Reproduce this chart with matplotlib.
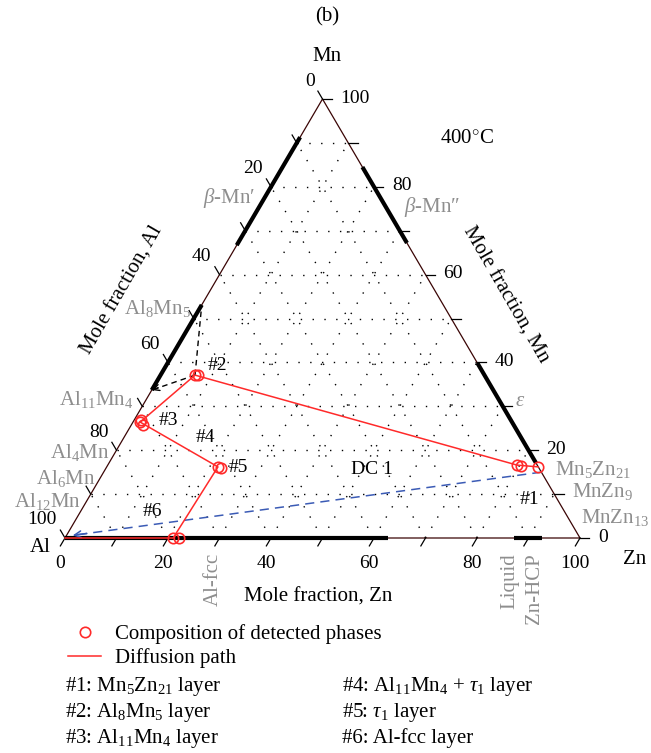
import numpy as np
import matplotlib
matplotlib.use('Agg')
import matplotlib.pyplot as plt
from matplotlib.lines import Line2D

plt.rcParams['font.family'] = ['Liberation Serif', 'DejaVu Serif']
plt.rcParams['mathtext.fontset'] = 'custom'
plt.rcParams['mathtext.rm'] = 'Liberation Serif'
plt.rcParams['mathtext.it'] = 'Liberation Serif:italic'
plt.rcParams['mathtext.bf'] = 'Liberation Serif:bold'

# detected phase compositions, (Zn, Mn) mole fractions, Al is the balance
phase_zn = [0.795, 0.803, 0.838, 0.067, 0.072, 0.013, 0.014, 0.023,
            0.216, 0.223, 0.210, 0.221]
phase_mn = [0.166, 0.164, 0.162, 0.371, 0.371, 0.269, 0.264, 0.257,
            0.162, 0.159, 0.000, 0.000]

# diffusion path, Al side -> Zn side
path_zn = [0.000, 0.210, 0.216, 0.014, 0.067, 0.795, 0.838]
path_mn = [0.000, 0.000, 0.162, 0.264, 0.371, 0.166, 0.162]

tick_vals = [0, 10, 20, 30, 40, 50, 60, 70, 80, 90, 100]
tick_labels = [0, 20, 40, 60, 80, 100]

# single-phase ranges on the binary edges
al_mn_bars = [(0.667, 0.913), (0.337, 0.531)]   # Mn fraction (Zn = 0)
mn_zn_bars = [(0.672, 0.845), (0.171, 0.399)]   # Mn fraction (Al = 0)
al_zn_bars = [(0.000, 0.627), (0.872, 0.926)]   # Zn fraction (Mn = 0)

# tie lines from the #2 composition to the Al8Mn5 field
tie_from = (0.067, 0.371)
tie_to = [(0.0, 0.531), (0.0, 0.337)]

# diffusion couple DC 1 end members
dc_start = (0.850, 0.150)
dc_end = (0.012, 0.006)

layer_text = ['#1: Mn$_5$Zn$_{21}$ layer', '#2: Al$_8$Mn$_5$ layer',
              '#3: Al$_{11}$Mn$_4$ layer', '#4: Al$_{11}$Mn$_4$ + $\\tau_1$ layer',
              '#5: $\\tau_1$ layer', '#6: Al-fcc layer']

GRAY = '#8e8e8e'
RED = '#ff2a2a'
BLUE = '#3b5bb5'
EDGE = '#3a0505'
FS = 15


def cart(zn, mn):
    zn = np.asarray(zn, float)
    mn = np.asarray(mn, float)
    return zn + mn / 2.0, mn


def at(x, y):
    """image pixel -> data coordinates"""
    return (x - 65) / 515.0, (538 - y) / 439.0


fig = plt.figure(figsize=(6.51, 7.53), dpi=100)
ax = fig.add_axes([0, 0, 1, 1])
ax.set_xlim(-65 / 515.0, 586 / 515.0)
ax.set_ylim((538 - 753) / 439.0, 538 / 439.0)
ax.axis('off')

# dotted 10 % grid
for f in np.arange(1, 10) / 10.0:
    for a, b in [((0, f), (1 - f, f)), ((f, 0), (f, 1 - f)), ((f, 0), (0, f))]:
        x, y = cart([a[0], b[0]], [a[1], b[1]])
        ax.plot(x, y, color='black', lw=1.0, ls=(0, (1, 7.5)), zorder=1)

# triangle frame
x, y = cart([0, 1, 0, 0], [0, 0, 1, 0])
ax.plot(x, y, color=EDGE, lw=0.9, zorder=2)

# phase fields along the edges
for lo, hi in al_mn_bars:
    x, y = cart([0, 0], [lo, hi])
    ax.plot(x, y, color='k', lw=3.0, solid_capstyle='butt', zorder=3)
for lo, hi in mn_zn_bars:
    x, y = cart([1 - lo, 1 - hi], [lo, hi])
    ax.plot(x, y, color='k', lw=3.0, solid_capstyle='butt', zorder=3)
for lo, hi in al_zn_bars:
    x, y = cart([lo, hi], [0, 0])
    ax.plot(x, y, color='k', lw=3.0, solid_capstyle='butt', zorder=3)

# ticks and tick labels
L = 0.018
for v in tick_vals:
    f = v / 100.0
    # Zn axis (bottom)
    px_, py_ = cart(f, 0)
    ax.plot([px_, px_ - 0.5 * L], [py_, py_ - L], color='k', lw=0.9, zorder=3)
    # Al axis (left)
    px_, py_ = cart(0, 1 - f)
    ax.plot([px_, px_ - 0.5 * L], [py_, py_ + L], color='k', lw=0.9, zorder=3)
    # Mn axis (right)
    px_, py_ = cart(1 - f, f)
    ax.plot([px_, px_ + L], [py_, py_], color='k', lw=0.9, zorder=3)
    if v in tick_labels:
        ax.annotate(str(v), cart(f, 0), xytext=(-5, -25), textcoords='offset pixels',
                    ha='center', va='center', fontsize=14)
        ax.annotate(str(v), cart(0, 1 - f), xytext=(-8, 18), textcoords='offset pixels',
                    ha='right', va='center', fontsize=14)
        ax.annotate(str(v), cart(1 - f, f), xytext=(18, 1), textcoords='offset pixels',
                    ha='left', va='center', fontsize=14)

# tie lines to Al8Mn5
x, y = cart([tie_from[0], tie_to[0][0]], [tie_from[1], tie_to[0][1]])
ax.plot(x, y, color='k', lw=1.0, ls=(0, (4, 3)), zorder=4)
x, y = cart([tie_from[0], tie_to[1][0]], [tie_from[1], tie_to[1][1]])
ax.plot(x, y, color='k', lw=1.0, ls=(0, (4, 3)), zorder=4)
tip = cart(*tie_to[1])
tail = cart(tie_to[1][0] + 0.15 * (tie_from[0] - tie_to[1][0]),
            tie_to[1][1] + 0.15 * (tie_from[1] - tie_to[1][1]))
ax.annotate('', xy=tip, xytext=tail,
            arrowprops=dict(arrowstyle='->', color='k', lw=1.0, shrinkA=0, shrinkB=0,
                            mutation_scale=11))

# diffusion couple composition line
x, y = cart([dc_start[0], dc_end[0]], [dc_start[1], dc_end[1]])
ax.plot(x, y, color=BLUE, lw=1.1, ls=(0, (6, 4)), zorder=4)
tip = cart(*dc_end)
tail = cart(dc_end[0] + 0.03 * (dc_start[0] - dc_end[0]),
            dc_end[1] + 0.03 * (dc_start[1] - dc_end[1]))
ax.annotate('', xy=tip, xytext=tail,
            arrowprops=dict(arrowstyle='->', color=BLUE, lw=1.1, shrinkA=0, shrinkB=0,
                            mutation_scale=12))

# diffusion path and measured compositions
x, y = cart(path_zn, path_mn)
ax.plot(x, y, color=RED, lw=1.1, zorder=5)
x, y = cart(phase_zn, phase_mn)
ax.plot(x, y, ls='none', marker='o', ms=7.5, mfc='none', mec=RED, mew=1.2, zorder=6)

# vertex and axis titles
ax.text(*at(327, 56), 'Mn', ha='center', va='center', fontsize=FS)
ax.text(*at(40, 548), 'Al', ha='center', va='center', fontsize=FS)
ax.text(*at(635, 560), 'Zn', ha='center', va='center', fontsize=FS)
ax.text(*at(327, 17), '(b)', ha='center', va='center', fontsize=FS)
ax.text(*at(467, 138), '400$^{\\circ}$C', ha='center', va='center', fontsize=FS)
ax.text(*at(122, 290), 'Mole fraction, Al', ha='center', va='center', fontsize=FS,
        rotation=60, rotation_mode='anchor')
ax.text(*at(505, 295), 'Mole fraction, Mn', ha='center', va='center', fontsize=FS,
        rotation=-60, rotation_mode='anchor')
ax.text(*at(318, 597), 'Mole fraction, Zn', ha='center', va='center', fontsize=FS)

# phase names
phase_names = [
    ('Al$_8$Mn$_5$', 157, 308, 'center'),
    ('Al$_{11}$Mn$_4$', 96, 400, 'center'),
    ('Al$_4$Mn', 80, 452, 'center'),
    ('Al$_6$Mn', 66, 478, 'center'),
    ('Al$_{12}$Mn', 47, 502, 'center'),
    ('$\\beta$-Mn\u2032', 229, 198, 'center'),
    ('$\\beta$-Mn\u2033', 432, 207, 'center'),
    ('$\\varepsilon$', 520, 402, 'center'),
    ('Mn$_5$Zn$_{21}$', 555, 470, 'left'),
    ('MnZn$_9$', 572, 492, 'left'),
    ('MnZn$_{13}$', 581, 518, 'left'),
]
for s, xx, yy, ha in phase_names:
    ax.text(*at(xx, yy), s, ha=ha, va='center', fontsize=FS, color=GRAY)
ax.text(*at(213, 553), 'Al-fcc', ha='center', va='top', fontsize=FS, color=GRAY, rotation=90)
ax.text(*at(510, 553), 'Liquid', ha='center', va='top', fontsize=FS, color=GRAY, rotation=90)
ax.text(*at(534, 553), 'Zn-HCP', ha='center', va='top', fontsize=FS, color=GRAY, rotation=90)

# layer numbers
for s, xx, yy in [('#1', 529, 500), ('#2', 217, 365), ('#3', 168, 420), ('#4', 205, 437),
                  ('#5', 238, 467), ('#6', 152, 512), ('DC 1', 372, 470)]:
    ax.text(*at(xx, yy), s, ha='center', va='center', fontsize=14)

# legend
handles = [Line2D([], [], ls='none', marker='o', ms=7.5, mfc='none', mec=RED, mew=1.2),
           Line2D([], [], color=RED, lw=1.1)]
fig.legend(handles, ['Composition of detected phases', 'Diffusion path'],
           loc='upper left', bbox_to_anchor=(68 / 651, 1 - 624 / 753), frameon=False,
           fontsize=FS, borderpad=0, borderaxespad=0, handlelength=1.6,
           handletextpad=0.65, labelspacing=0.2)

for i, s in enumerate(layer_text):
    col, row = divmod(i, 3)
    ax.text(*at(65 + 277 * col, 687 + 25.5 * row), s, ha='left', va='center', fontsize=FS)

fig.savefig('out.png', dpi=100)
